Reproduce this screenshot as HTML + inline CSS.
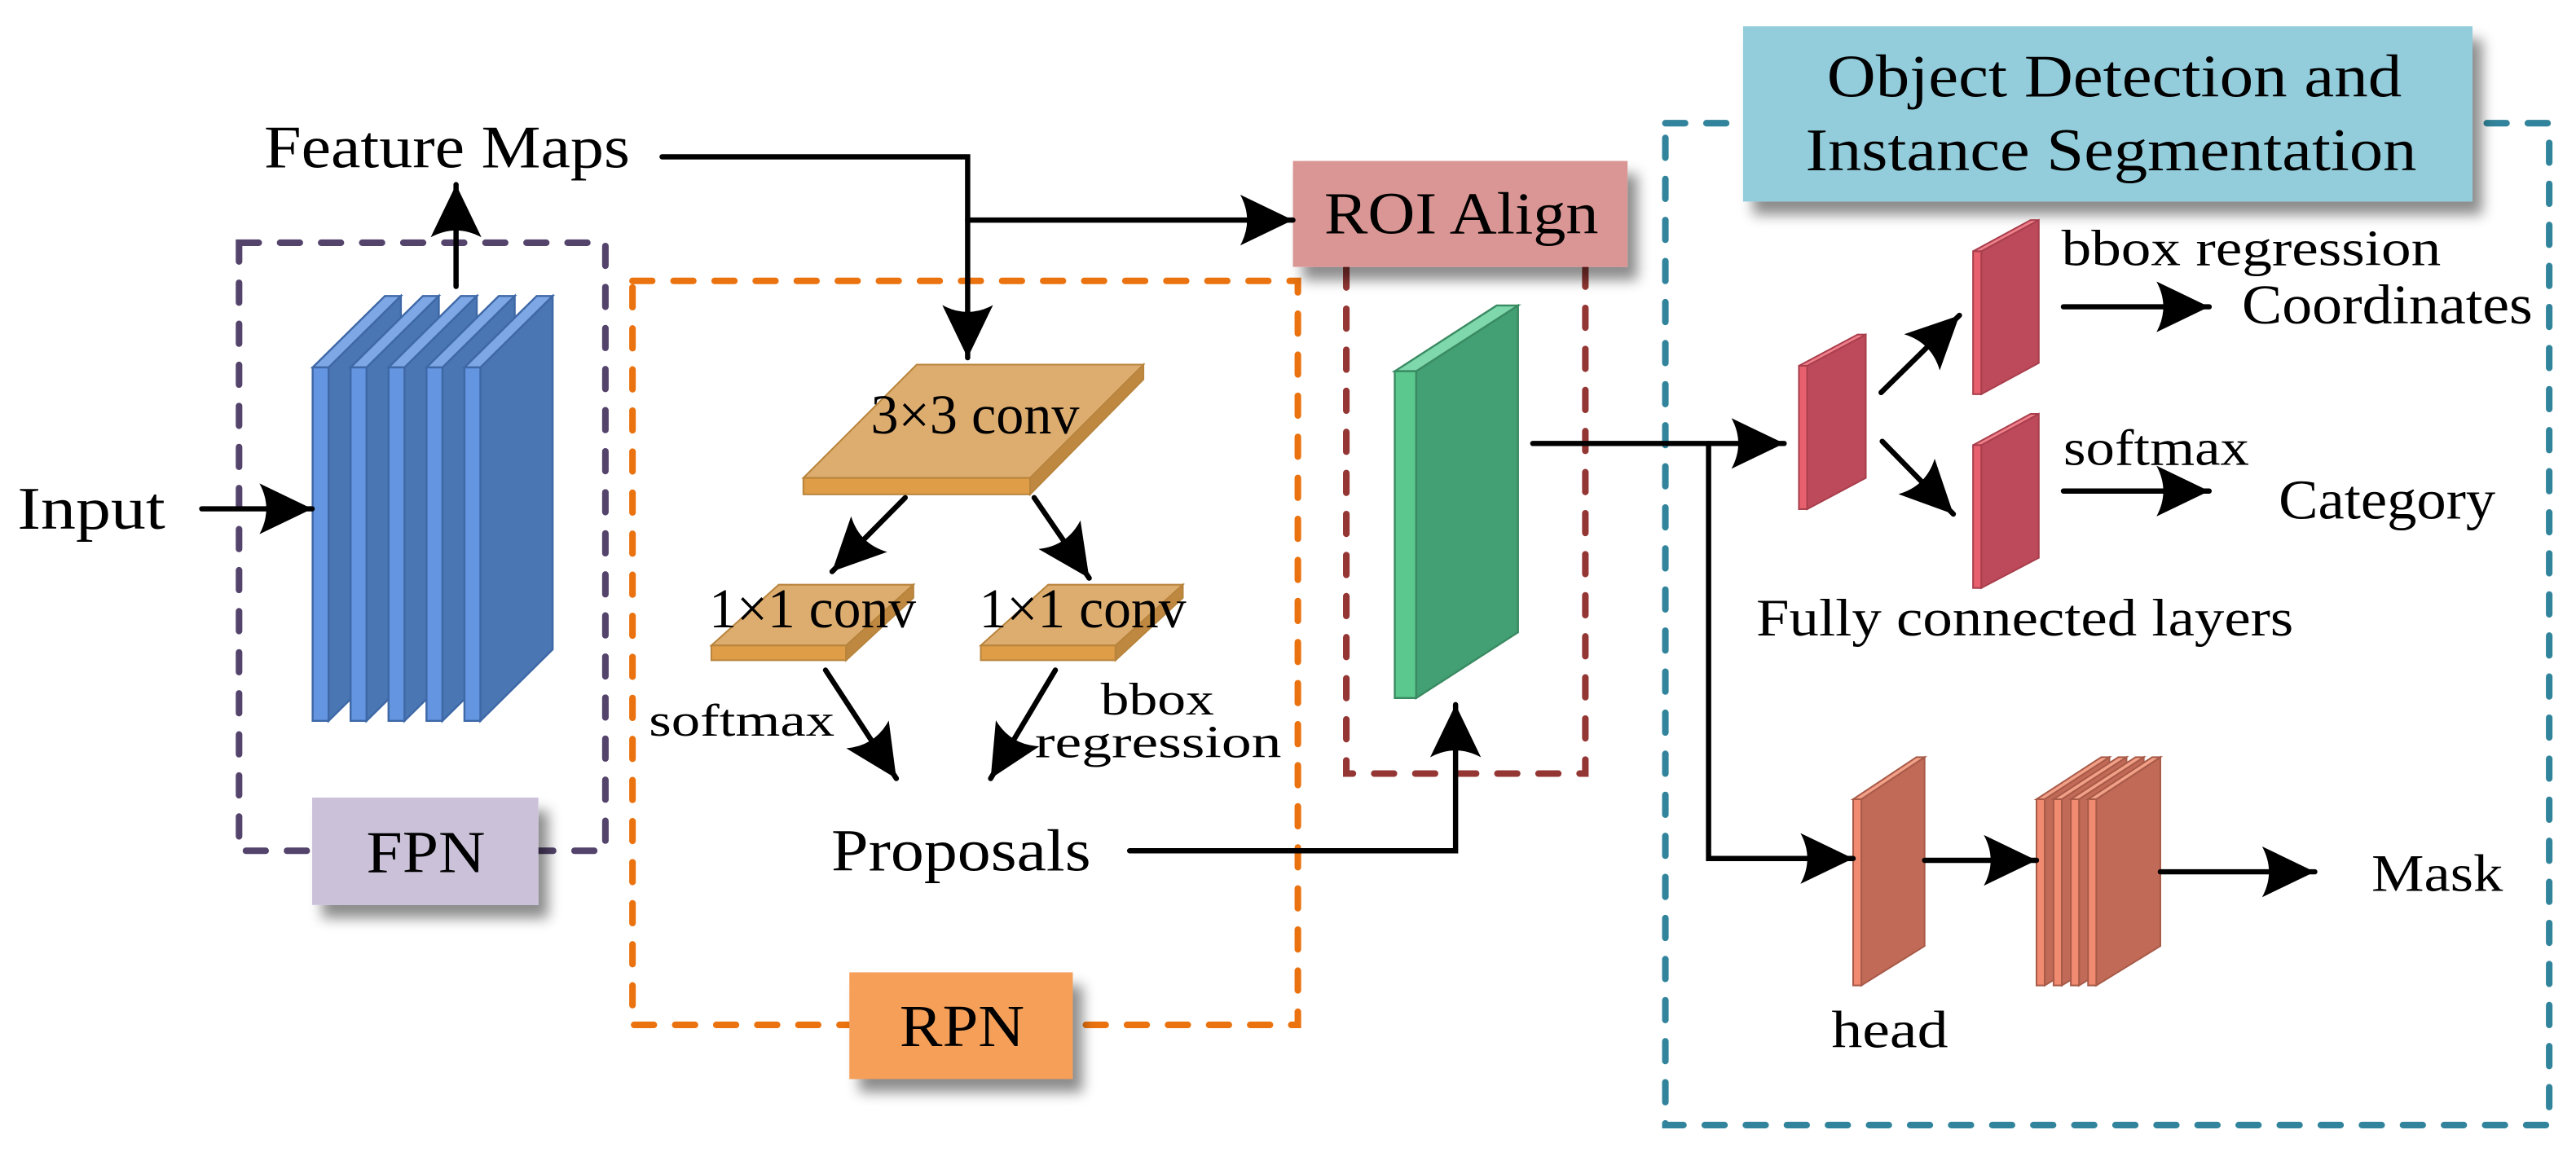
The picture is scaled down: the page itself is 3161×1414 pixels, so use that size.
<!DOCTYPE html>
<html><head><meta charset="utf-8"><style>
html,body{margin:0;padding:0;background:#fff;}
svg{display:block;}
text{font-family:"Liberation Serif",serif;fill:#000;}
</style></head><body>
<svg width="3161" height="1414" viewBox="0 0 1568 701.4" preserveAspectRatio="none" xmlns="http://www.w3.org/2000/svg">
<defs>
<marker id="ah" markerUnits="userSpaceOnUse" markerWidth="38" markerHeight="38" viewBox="-30 -16 32 32" refX="0" refY="0" orient="auto">
<path d="M0,0 L-27,-13 Q-20,0 -27,13 Z" fill="#000"/>
</marker>
<filter id="sh" x="-20%" y="-20%" width="150%" height="170%">
<feDropShadow dx="6" dy="8" stdDeviation="4" flood-color="#000" flood-opacity="0.45"/>
</filter>
</defs>

<g fill="none" stroke-width="4" stroke-linecap="round" stroke-dasharray="12 13">
<rect x="145.5" y="147.8" width="223" height="370.2" stroke="#54446c"/>
<rect x="385" y="171" width="405" height="453" stroke="#ea720f"/>
<path d="M819.5,163 L819.5,471 L965,471 L965,163" stroke="#943634"/>
<rect x="1013.7" y="75" width="538" height="610" stroke="#31849b"/>
</g>

<rect x="190" y="485.6" width="137.7" height="65.4" fill="#cbc2da" filter="url(#sh)"/>
<text x="223" y="531" font-size="36" textLength="72.4" lengthAdjust="spacingAndGlyphs">FPN</text>
<rect x="517" y="592" width="136" height="65" fill="#f59f58" filter="url(#sh)"/>
<text x="547.6" y="637" font-size="36" textLength="76" lengthAdjust="spacingAndGlyphs">RPN</text>
<rect x="787" y="98" width="203.7" height="64.5" fill="#d99694" filter="url(#sh)"/>
<text x="806" y="142" font-size="36" textLength="167" lengthAdjust="spacingAndGlyphs">ROI Align</text>
<rect x="1061" y="16" width="444" height="106.7" fill="#93cddc" filter="url(#sh)"/>
<text x="1112" y="58.8" font-size="37" textLength="350" lengthAdjust="spacingAndGlyphs">Object Detection and</text>
<text x="1099" y="103.7" font-size="37" textLength="372" lengthAdjust="spacingAndGlyphs">Instance Segmentation</text>

<g stroke="#3e68a6" stroke-width="1.2">
<polygon points="200,223.7 244,180.2 244,395.4 200,438.9" fill="#4a76b4"/><polygon points="190.3,223.7 200,223.7 244,180.2 234.3,180.2" fill="#7ea7e6"/><rect x="190.3" y="223.7" width="9.7" height="215.2" fill="#6495e0"/>
<polygon points="223.1,223.7 267.1,180.2 267.1,395.4 223.1,438.9" fill="#4a76b4"/><polygon points="213.4,223.7 223.1,223.7 267.1,180.2 257.4,180.2" fill="#7ea7e6"/><rect x="213.4" y="223.7" width="9.7" height="215.2" fill="#6495e0"/>
<polygon points="246.2,223.7 290.2,180.2 290.2,395.4 246.2,438.9" fill="#4a76b4"/><polygon points="236.5,223.7 246.2,223.7 290.2,180.2 280.5,180.2" fill="#7ea7e6"/><rect x="236.5" y="223.7" width="9.7" height="215.2" fill="#6495e0"/>
<polygon points="269.3,223.7 313.3,180.2 313.3,395.4 269.3,438.9" fill="#4a76b4"/><polygon points="259.6,223.7 269.3,223.7 313.3,180.2 303.6,180.2" fill="#7ea7e6"/><rect x="259.6" y="223.7" width="9.7" height="215.2" fill="#6495e0"/>
<polygon points="292.4,223.7 336.4,180.2 336.4,395.4 292.4,438.9" fill="#4a76b4"/><polygon points="282.7,223.7 292.4,223.7 336.4,180.2 326.7,180.2" fill="#7ea7e6"/><rect x="282.7" y="223.7" width="9.7" height="215.2" fill="#6495e0"/>
</g>

<g stroke="#b8843c" stroke-width="1">
<polygon points="489,291 627,291 696,222 558,222" fill="#ddad70"/>
<rect x="489" y="291" width="138" height="10" fill="#e09d48"/>
<polygon points="627,291 696,222 696,231 627,301" fill="#bf8840"/>
<polygon points="433,393 515,393 556,356 474,356" fill="#ddad70"/>
<rect x="433" y="393" width="82" height="9" fill="#e09d48"/>
<polygon points="515,393 556,356 556,364 515,402" fill="#bf8840"/>
<polygon points="597,393 679,393 720,356 638,356" fill="#ddad70"/>
<rect x="597" y="393" width="82" height="9" fill="#e09d48"/>
<polygon points="679,393 720,356 720,364 679,402" fill="#bf8840"/>
</g>
<text x="530" y="264" font-size="34" textLength="127" lengthAdjust="spacingAndGlyphs">3×3 conv</text>
<text x="431.6" y="382" font-size="34" textLength="126" lengthAdjust="spacingAndGlyphs">1×1 conv</text>
<text x="596" y="382" font-size="34" textLength="126" lengthAdjust="spacingAndGlyphs">1×1 conv</text>
<text x="395" y="448" font-size="28" textLength="113" lengthAdjust="spacingAndGlyphs">softmax</text>
<text x="670" y="435" font-size="28" textLength="69" lengthAdjust="spacingAndGlyphs">bbox</text>
<text x="630" y="461" font-size="28" textLength="150" lengthAdjust="spacingAndGlyphs">regression</text>
<text x="506" y="530" font-size="36" textLength="158" lengthAdjust="spacingAndGlyphs">Proposals</text>

<g stroke="#3a8a62" stroke-width="1.2">
<polygon points="862,226 924,186 924,385 862,425" fill="#42a074"/>
<polygon points="849,226 862,226 924,186 911,186" fill="#7fd8ac"/>
<rect x="849" y="226" width="13" height="199" fill="#5bc98e"/>
</g>

<g stroke="#a83e4c" stroke-width="1">
<polygon points="1100,222.7 1135.7,203.7 1135.7,291 1100,310" fill="#bd4a5a"/>
<polygon points="1095,222.7 1100,222.7 1135.7,203.7 1130.7,203.7" fill="#ef7f8a"/>
<rect x="1095" y="222.7" width="5" height="87.3" fill="#e8606e"/>
<polygon points="1206,153 1241,134 1241,221 1206,240" fill="#bd4a5a"/>
<polygon points="1201,153 1206,153 1241,134 1236,134" fill="#ef7f8a"/>
<rect x="1201" y="153" width="5" height="87" fill="#e8606e"/>
<polygon points="1206,271 1241,252 1241,339.6 1206,358" fill="#bd4a5a"/>
<polygon points="1201,271 1206,271 1241,252 1236,252" fill="#ef7f8a"/>
<rect x="1201" y="271" width="5" height="87" fill="#e8606e"/>
</g>

<g stroke="#a85a48" stroke-width="1">
<polygon points="1133,486.6 1171.5,461 1171.5,576 1133,600" fill="#c06a57"/>
<polygon points="1128,486.6 1133,486.6 1171.5,461 1166.5,461" fill="#f2a088"/>
<rect x="1128" y="486.6" width="5" height="113.4" fill="#f08a70"/>
<polygon points="1244.6,486.6 1284,461 1284,576 1244.6,600" fill="#c06a57"/>
<polygon points="1239.6,486.6 1244.6,486.6 1284,461 1279,461" fill="#f2a088"/>
<rect x="1239.6" y="486.6" width="5" height="113.4" fill="#f08a70"/>
<polygon points="1255,486.6 1294.4,461 1294.4,576 1255,600" fill="#c06a57"/>
<polygon points="1250,486.6 1255,486.6 1294.4,461 1289.4,461" fill="#f2a088"/>
<rect x="1250" y="486.6" width="5" height="113.4" fill="#f08a70"/>
<polygon points="1265.5,486.6 1304.9,461 1304.9,576 1265.5,600" fill="#c06a57"/>
<polygon points="1260.5,486.6 1265.5,486.6 1304.9,461 1299.9,461" fill="#f2a088"/>
<rect x="1260.5" y="486.6" width="5" height="113.4" fill="#f08a70"/>
<polygon points="1276,486.6 1315,461 1315,576 1276,600" fill="#c06a57"/>
<polygon points="1271,486.6 1276,486.6 1315,461 1310,461" fill="#f2a088"/>
<rect x="1271" y="486.6" width="5" height="113.4" fill="#f08a70"/>
</g>

<g fill="none" stroke="#000" stroke-width="3.2" stroke-linecap="round" stroke-linejoin="miter">
<line x1="122.8" y1="309.8" x2="190" y2="309.8" marker-end="url(#ah)"/>
<line x1="277.6" y1="174.4" x2="277.6" y2="112.4" marker-end="url(#ah)"/>
<path d="M403,95.5 L589,95.5 L589,217.8" marker-end="url(#ah)"/>
<line x1="589" y1="134" x2="787" y2="134" marker-end="url(#ah)"/>
<line x1="551" y1="303" x2="506.5" y2="348" marker-end="url(#ah)"/>
<line x1="629.5" y1="303" x2="663" y2="352" marker-end="url(#ah)"/>
<line x1="502.5" y1="408" x2="545.6" y2="474" marker-end="url(#ah)"/>
<line x1="642.4" y1="408" x2="603" y2="474" marker-end="url(#ah)"/>
<path d="M687.6,518 L886,518 L886,429" marker-end="url(#ah)"/>
<line x1="933" y1="270" x2="1086" y2="270" marker-end="url(#ah)"/>
<path d="M1040,270 L1040,522.7 L1128,522.7" marker-end="url(#ah)"/>
<line x1="1145" y1="239" x2="1192.7" y2="192" marker-end="url(#ah)"/>
<line x1="1145.7" y1="268.7" x2="1189" y2="313" marker-end="url(#ah)"/>
<line x1="1256" y1="186.8" x2="1344.7" y2="186.8" marker-end="url(#ah)"/>
<line x1="1256" y1="299" x2="1344.7" y2="299" marker-end="url(#ah)"/>
<line x1="1171.5" y1="523.8" x2="1239.6" y2="523.8" marker-end="url(#ah)"/>
<line x1="1315" y1="530.8" x2="1409" y2="530.8" marker-end="url(#ah)"/>
</g>

<text x="10.6" y="322" font-size="37" textLength="90" lengthAdjust="spacingAndGlyphs">Input</text>
<text x="160.7" y="102" font-size="37" textLength="222.7" lengthAdjust="spacingAndGlyphs">Feature Maps</text>
<text x="1254.8" y="161.5" font-size="31" textLength="231" lengthAdjust="spacingAndGlyphs">bbox regression</text>
<text x="1364.6" y="197" font-size="34" textLength="177" lengthAdjust="spacingAndGlyphs">Coordinates</text>
<text x="1256" y="283" font-size="31" textLength="113" lengthAdjust="spacingAndGlyphs">softmax</text>
<text x="1387" y="315.8" font-size="34" textLength="132" lengthAdjust="spacingAndGlyphs">Category</text>
<text x="1069" y="387" font-size="32" textLength="327" lengthAdjust="spacingAndGlyphs">Fully connected layers</text>
<text x="1114.8" y="637.6" font-size="32" textLength="71" lengthAdjust="spacingAndGlyphs">head</text>
<text x="1443.5" y="542.5" font-size="32" textLength="80" lengthAdjust="spacingAndGlyphs">Mask</text>
</svg>
</body></html>
